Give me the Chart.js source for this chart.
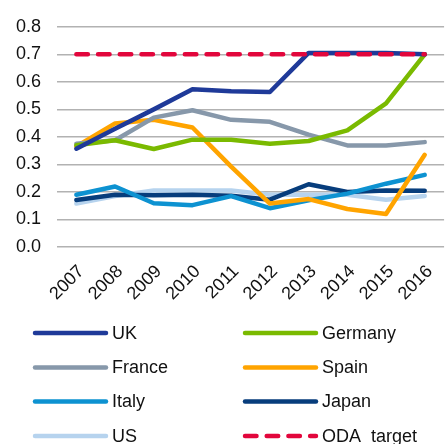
<!DOCTYPE html>
<html>
<head>
<meta charset="utf-8">
<script src="https://cdn.jsdelivr.net/npm/chart.js@4"></script>
<style>
    html, body { margin: 0; padding: 0; background: #fff; }
    #wrap { width: 446px; height: 444px; position: relative; }
</style>
</head>
<body>
<div id="wrap"><canvas id="chart"></canvas></div>
<script>
const years = ['2007', '2008', '2009', '2010', '2011', '2012', '2013', '2014', '2015', '2016'];
const yTicks = [0.0, 0.1, 0.2, 0.3, 0.4, 0.5, 0.6, 0.7, 0.8];

const ukValues = [0.357, 0.43, 0.50, 0.573, 0.566, 0.563, 0.705, 0.705, 0.705, 0.70];
const germanyValues = [0.37, 0.388, 0.356, 0.39, 0.39, 0.375, 0.385, 0.424, 0.522, 0.70];
const franceValues = [0.375, 0.388, 0.47, 0.497, 0.462, 0.455, 0.408, 0.369, 0.369, 0.381];
const spainValues = [0.365, 0.449, 0.462, 0.434, 0.292, 0.158, 0.174, 0.138, 0.12, 0.335];
const italyValues = [0.19, 0.22, 0.159, 0.152, 0.185, 0.141, 0.17, 0.194, 0.23, 0.262];
const japanValues = [0.171, 0.19, 0.188, 0.19, 0.186, 0.172, 0.228, 0.2, 0.205, 0.204];
const usValues = [0.158, 0.185, 0.205, 0.205, 0.205, 0.19, 0.19, 0.19, 0.172, 0.185];
const odaValues = [0.7, 0.7, 0.7, 0.7, 0.7, 0.7, 0.7, 0.7, 0.7, 0.7];

const seriesNames = ['UK', 'Germany', 'France', 'Spain', 'Italy', 'Japan', 'US', 'ODA  target'];
const seriesColors = ['#1f3a99', '#7aba00', '#8798aa', '#ffa400', '#0d92d1', '#073d7c', '#b6d3ee', '#e2063c'];

const seriesValues = [ukValues, germanyValues, franceValues, spainValues, italyValues, japanValues, usValues, odaValues];

const FONT = '"Liberation Sans", Arial, sans-serif';

// legend in two columns under the plot
const gridLegend = {
    id: 'gridLegend',
    afterDraw(chart) {
        const ctx = chart.ctx;
        const rows = [333, 367.5, 401.5, 436];
        const cols = [35, 245];
        ctx.save();
        chart.data.datasets.forEach((ds, i) => {
            const x = cols[i % 2];
            const y = rows[Math.floor(i / 2)];
            ctx.strokeStyle = ds.borderColor;
            ctx.lineWidth = 4.5;
            ctx.lineCap = 'round';
            ctx.setLineDash(ds.borderDash || []);
            ctx.beginPath();
            ctx.moveTo(x, y);
            ctx.lineTo(x + 71, y);
            ctx.stroke();
            ctx.setLineDash([]);
            ctx.fillStyle = '#111';
            ctx.font = '18px ' + FONT;
            ctx.textBaseline = 'middle';
            ctx.fillText(ds.label, x + 77, y + 1);
        });
        ctx.restore();
    }
};

const datasets = seriesNames.map((name, i) => {
    const isTarget = name.startsWith('ODA');
    return {
        label: name,
        data: seriesValues[i],
        borderColor: seriesColors[i],
        backgroundColor: seriesColors[i],
        borderWidth: 4.5,
        borderDash: isTarget ? [11.5, 10.2] : undefined,
        borderCapStyle: 'round',
        borderJoinStyle: 'round',
        pointRadius: 0,
        tension: 0,
        order: isTarget ? -1 : 0
    };
});

new Chart(document.getElementById('chart'), {
    type: 'line',
    data: { labels: years, datasets: datasets },
    options: {
        responsive: true,
        maintainAspectRatio: false,
        animation: false,
        layout: { padding: { top: 23, right: 0, left: 0, bottom: 140 } },
        plugins: {
            legend: { display: false },
            tooltip: { enabled: false }
        },
        scales: {
            x: {
                offset: true,
                grid: { display: false },
                border: { display: false },
                ticks: {
                    color: '#111',
                    font: { family: FONT, size: 18 },
                    minRotation: 45,
                    maxRotation: 45,
                    labelOffset: 5,
                    padding: 6
                },
                afterFit: (s) => { s.height = 57; }
            },
            y: {
                min: 0,
                max: 0.8,
                afterBuildTicks: (s) => { s.ticks = yTicks.map(v => ({ value: v })); },
                grid: { color: '#b2b2b2', lineWidth: 1.5, drawTicks: false },
                border: { display: false },
                ticks: {
                    color: '#111',
                    font: { family: FONT, size: 18 },
                    padding: 16,
                    callback: (v) => Number(v).toFixed(1)
                },
                afterFit: (s) => { s.width = 57; }
            }
        }
    },
    plugins: [gridLegend]
});
</script>
</body>
</html>
